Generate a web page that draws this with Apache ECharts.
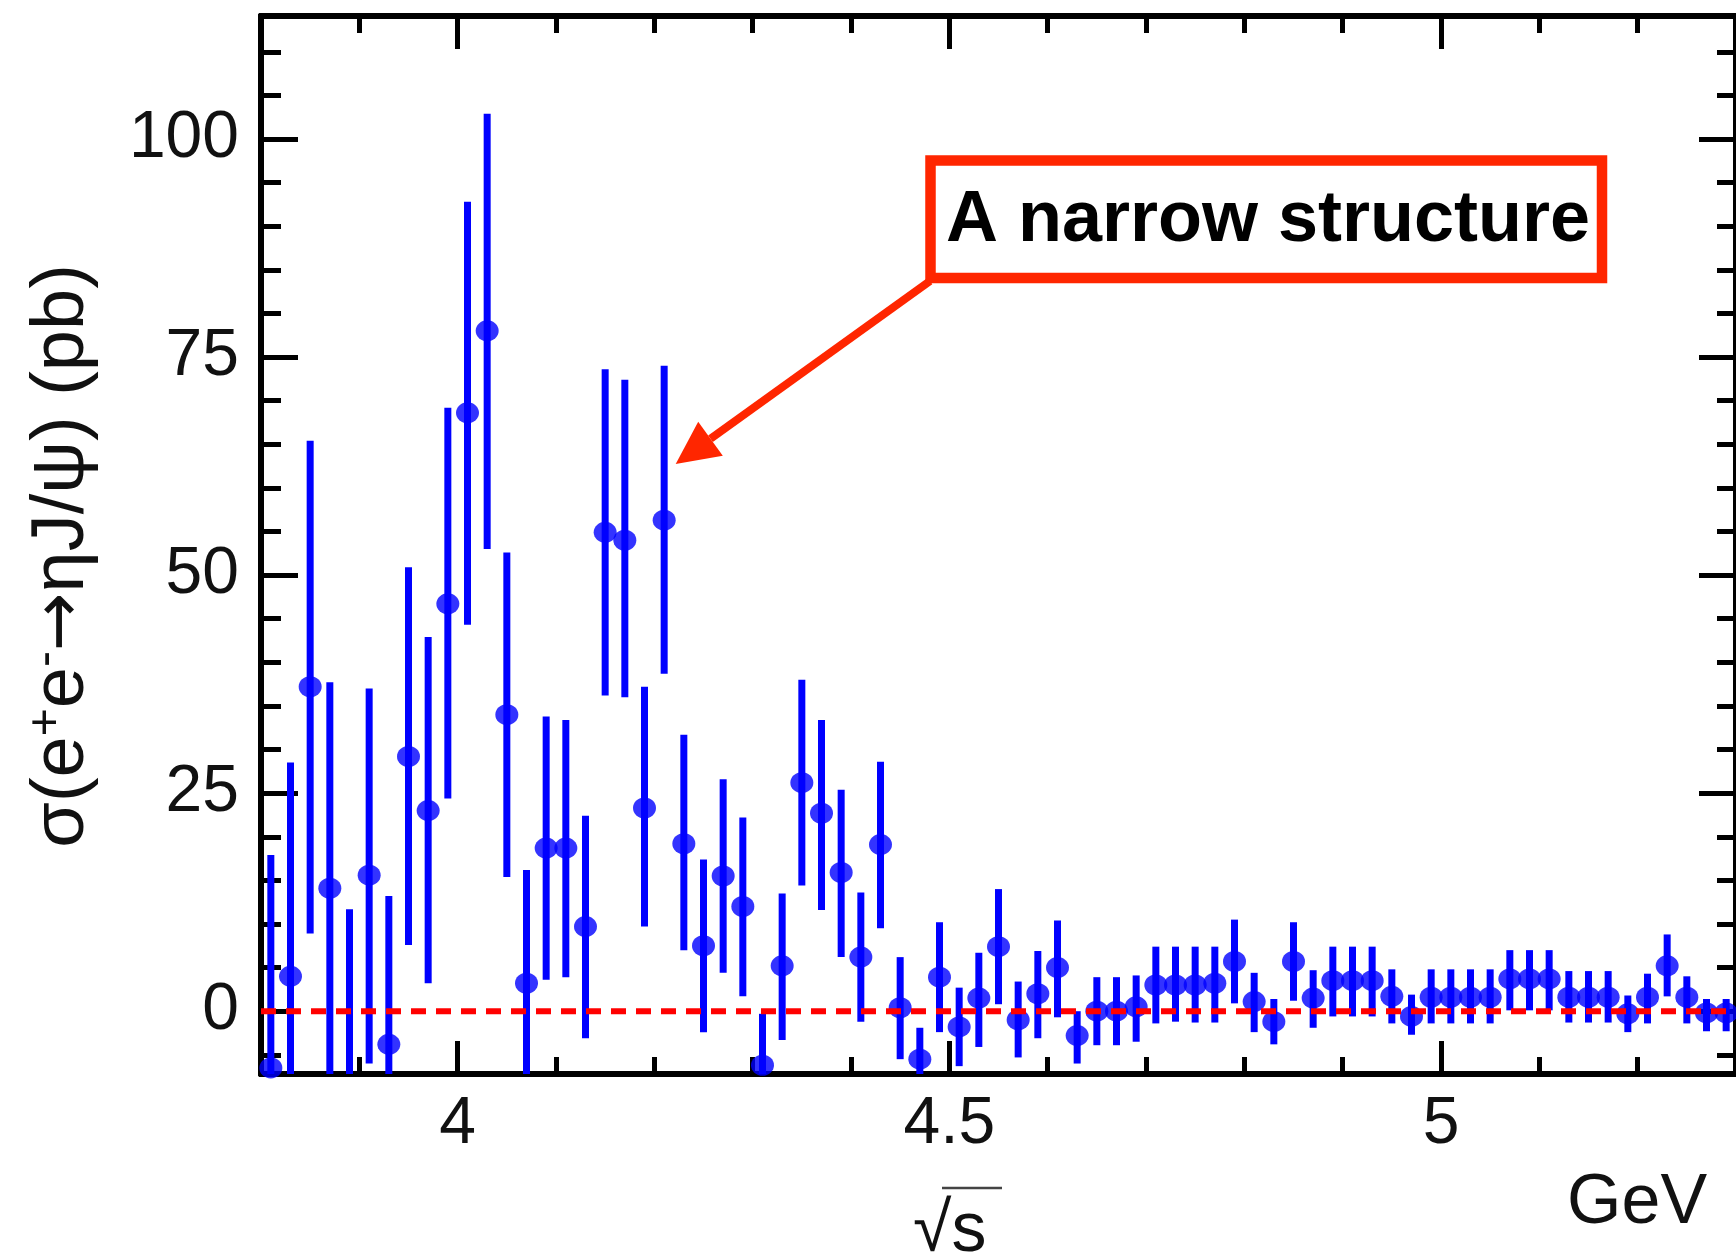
<!DOCTYPE html>
<html><head><meta charset="utf-8">
<script src="https://cdn.jsdelivr.net/npm/echarts@6/dist/echarts.min.js"></script>
<style>html,body{margin:0;padding:0;background:#fff;}#c{width:1736px;height:1258px;}</style>
</head><body><div id="c"></div>
<script>
// ---- data ----
const energy = [3.81,3.83,3.85,3.87,3.89,3.91,3.93,3.95,3.97,3.99,
  4.01,4.03,4.05,4.07,4.09,4.11,4.13,4.15,4.17,4.19,
  4.21,4.23,4.25,4.27,4.29,4.31,4.33,4.35,4.37,4.39,
  4.41,4.43,4.45,4.47,4.49,4.51,4.53,4.55,4.57,4.59,
  4.61,4.63,4.65,4.67,4.69,4.71,4.73,4.75,4.77,4.79,
  4.81,4.83,4.85,4.87,4.89,4.91,4.93,4.95,4.97,4.99,
  5.01,5.03,5.05,5.07,5.09,5.11,5.13,5.15,5.17,5.19,
  5.21,5.23,5.25,5.27,5.29];
const sigma = [-6.5,4.0,37.2,14.1,-7.3,15.6,-3.8,29.2,23.0,46.7,
  68.6,78.0,34.0,3.2,18.7,18.7,9.7,54.9,54.0,23.3,
  56.3,19.2,7.5,15.5,12.0,-6.2,5.2,26.2,22.7,15.9,
  6.2,19.1,0.4,-5.5,3.9,-1.8,1.5,7.4,-1.0,2.0,
  5.0,-2.8,0.0,0.0,0.5,3.0,3.0,3.0,3.2,5.7,
  1.1,-1.2,5.7,1.5,3.5,3.5,3.5,1.7,-0.6,1.6,
  1.6,1.6,1.6,3.7,3.7,3.7,1.6,1.6,1.6,-0.3,
  1.6,5.2,1.6,-0.2,-0.2];
const errLow = [-30.9,-20.5,8.9,-9.5,-26.3,-6.0,-20.8,7.6,3.2,24.4,
  44.3,53.0,15.4,-9.8,3.6,3.9,-3.1,36.2,36.0,9.7,
  38.7,7.0,-2.4,4.4,1.7,-12.1,-3.3,14.4,11.6,6.2,
  -1.2,9.5,-5.5,-9.1,-2.4,-6.3,-4.1,0.8,-5.3,-3.1,
  -0.7,-6.0,-3.9,-3.9,-3.5,-1.4,-1.2,-1.3,-1.3,0.9,
  -2.4,-3.8,1.2,-1.9,-0.6,-0.6,-0.6,-1.4,-2.7,-1.4,
  -1.4,-1.4,-1.4,0.1,0.1,0.1,-1.3,-1.3,-1.3,-2.4,
  -1.4,1.7,-1.4,-2.3,-2.3];
const errHigh = [17.9,28.5,65.4,37.7,11.7,37.0,13.2,50.9,42.9,69.2,
  92.8,102.9,52.6,16.2,33.8,33.4,22.4,73.6,72.4,37.2,
  74.0,31.7,17.4,26.6,22.2,-0.3,13.5,38.0,33.4,25.4,
  13.6,28.6,6.2,-1.9,10.2,2.7,6.7,14.0,3.4,6.9,
  10.4,0.0,3.9,3.9,4.1,7.4,7.4,7.4,7.4,10.5,
  4.4,1.4,10.2,4.7,7.4,7.4,7.4,4.8,1.9,4.8,
  4.8,4.8,4.8,7.0,7.0,7.0,4.6,4.6,4.6,1.8,
  4.3,8.8,4.0,1.4,1.4];
const zeroLineX = [3.8, 5.3];
const zeroLineY = [0, 0];
const xRange = [3.8, 5.3];
const yRange = [-7.2, 114.1];
const xMajorTicks = [4, 4.5, 5];
const xMinorTicks = [3.9,4.1,4.2,4.3,4.4,4.6,4.7,4.8,4.9,5.1,5.2];
const yMajorTicks = [0, 25, 50, 75, 100];
const yMinorTicks = [-5,5,10,15,20,30,35,40,45,55,60,65,70,80,85,90,95,105,110];
const yTitle = '{n|σ(e}{s|+}{n|e}{s|-}{a|→}{n|ηJ/ψ) (pb)}';
const xTitle = '√s';
const xUnit = 'GeV';
const noteText = 'A narrow structure';

// ---- chart ----
const chart = echarts.init(document.getElementById('c'));
const AX = '#000';
const labelFont = {fontFamily: 'Liberation Sans', fontSize: 66, color: '#111'};

function xAx(pos, ticks, len, labels) {
  return {type: 'value', position: pos, min: xRange[0], max: xRange[1],
    axisLine: {show: true, onZero: false, lineStyle: {color: AX, width: 6}},
    axisTick: {show: true, inside: true, length: len, customValues: ticks, lineStyle: {color: AX, width: 5}},
    axisLabel: labels ? Object.assign({show: true, customValues: ticks, margin: 18}, labelFont) : {show: false},
    splitLine: {show: false}};
}
function yAx(pos, ticks, len, labels) {
  return {type: 'value', position: pos, min: yRange[0], max: yRange[1],
    axisLine: {show: true, onZero: false, lineStyle: {color: AX, width: 6}},
    axisTick: {show: true, inside: true, length: len, customValues: ticks, lineStyle: {color: AX, width: 5}},
    axisLabel: labels ? Object.assign({show: true, customValues: ticks, margin: 22}, labelFont) : {show: false},
    splitLine: {show: false}};
}

const yMain = yAx('left', yMajorTicks, 37, true);
yMain.name = yTitle;
yMain.nameLocation = 'middle';
yMain.nameRotate = 90;
yMain.nameGap = 158;
yMain.nameTextStyle = {
  padding: [0, 22, 0, 0],
  rich: {
    n: {fontFamily: 'Liberation Sans', fontSize: 74, color: '#111'},
    a: {fontFamily: 'DejaVu Sans', fontSize: 70, color: '#111'},
    s: {fontFamily: 'Liberation Sans', fontSize: 48, color: '#111', verticalAlign: 'top', padding: [0, 0, 32, 0]}
  }
};

chart.setOption({
  animation: false,
  backgroundColor: '#fff',
  grid: {left: 261, right: -3, top: 16, bottom: 184, containLabel: false},
  xAxis: [
    xAx('bottom', xMajorTicks, 33, true),
    xAx('bottom', xMinorTicks, 17, false),
    xAx('top', xMajorTicks, 33, false),
    xAx('top', xMinorTicks, 17, false)
  ],
  yAxis: [
    yMain,
    yAx('left', yMinorTicks, 20, false),
    yAx('right', yMajorTicks, 37, false),
    yAx('right', yMinorTicks, 19, false)
  ],
  series: [
    {
      type: 'custom', xAxisIndex: 0, yAxisIndex: 0, clip: true, z: 2,
      data: energy.map((e, i) => [e, errLow[i], errHigh[i]]),
      encode: {x: 0, y: [1, 2]},
      renderItem: function (params, api) {
        const p1 = api.coord([api.value(0), api.value(1)]);
        const p2 = api.coord([api.value(0), api.value(2)]);
        return {type: 'line', shape: {x1: p1[0], y1: p1[1], x2: p2[0], y2: p2[1]},
          style: {stroke: '#0000ff', lineWidth: 7}};
      }
    },
    {
      type: 'scatter', xAxisIndex: 0, yAxisIndex: 0, clip: true, z: 3,
      symbol: 'circle', symbolSize: [23, 21],
      itemStyle: {color: '#0000ff'},
      data: energy.map((e, i) => [e, sigma[i]])
    },
    {
      type: 'line', xAxisIndex: 0, yAxisIndex: 0, z: 5, showSymbol: false, symbol: 'none',
      lineStyle: {color: '#ff0000', width: 6, type: [15, 10]},
      data: zeroLineX.map((x, i) => [x, zeroLineY[i]])
    }
  ],
  graphic: [
    {type: 'rect', shape: {x: 930.5, y: 160.5, width: 671.5, height: 117.5},
      style: {fill: '#fff', stroke: '#ff2600', lineWidth: 10.5}, z: 20},
    {type: 'text', x: 1268, y: 221, z: 21,
      style: {text: noteText, font: 'bold 72px "Liberation Sans"', fill: '#000', align: 'center', verticalAlign: 'middle'}},
    {type: 'line', shape: {x1: 930, y1: 281, x2: 710.5, y2: 438.8},
      style: {stroke: '#ff2600', lineWidth: 8}, z: 20},
    {type: 'polygon', shape: {points: [[675.7, 464], [698.2, 421.8], [722.8, 455.8]]},
      style: {fill: '#ff2600'}, z: 20},
    {type: 'text', x: 913, y: 1232, z: 21,
      style: {text: xTitle, font: '70px "Liberation Sans"', fill: '#111', align: 'left', verticalAlign: 'middle'}},
    {type: 'line', shape: {x1: 942, y1: 1188, x2: 1002, y2: 1188},
      style: {stroke: '#444', lineWidth: 2.5}, z: 21},
    {type: 'text', x: 1567, y: 1204, z: 21,
      style: {text: xUnit, font: '70px "Liberation Sans"', fill: '#111', align: 'left', verticalAlign: 'middle'}}
  ]
});
</script>
</body></html>
